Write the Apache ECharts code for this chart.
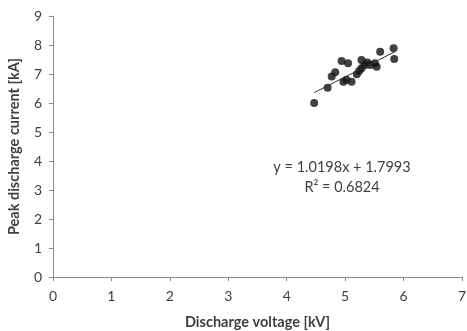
<!DOCTYPE html>
<html>
<head>
<meta charset="utf-8">
<script src="https://cdn.jsdelivr.net/npm/echarts@6/dist/echarts.min.js"></script>
<style>
  html, body { margin: 0; padding: 0; background: #fff; }
  #chart { width: 467px; height: 331px; }
</style>
</head>
<body>
<div id="chart"></div>
<script>
// Measured discharge voltage [kV] vs. peak discharge current [kA]
var voltage = [4.47, 4.70, 4.77, 4.83, 4.94, 5.05, 4.97, 5.11, 5.20, 5.28, 5.28, 5.33, 5.43, 5.51, 5.54, 5.60, 5.83, 5.84, 5.02, 5.24, 5.38];
var current = [6.00, 6.53, 6.91, 7.06, 7.45, 7.37, 6.73, 6.73, 6.99, 7.48, 7.20, 7.30, 7.31, 7.37, 7.25, 7.77, 7.89, 7.52, 6.80, 7.10, 7.40];

// Linear trendline coefficients
var slope = 1.0198;
var intercept = 1.7993;
var rSquared = 0.6824;

var xTicks = [0, 1, 2, 3, 4, 5, 6, 7];
var yTicks = [0, 1, 2, 3, 4, 5, 6, 7, 8, 9];

var points = voltage.map(function (v, i) { return [v, current[i]]; });
var xMin = Math.min.apply(null, voltage);
var xMax = Math.max.apply(null, voltage);
var trend = [[xMin, slope * xMin + intercept], [xMax, slope * xMax + intercept]];

var fontFamily = 'Lato, "Liberation Sans", sans-serif';
var axisGray = '#8a8a8a';
var textGray = '#404040';

var chart = echarts.init(document.getElementById('chart'));
chart.setOption({
  animation: false,
  backgroundColor: '#fff',
  grid: { left: 53, right: 5, top: 16, bottom: 54, containLabel: false, outerBoundsMode: 'none' },
  xAxis: {
    type: 'value',
    min: xTicks[0],
    max: xTicks[xTicks.length - 1],
    interval: 1,
    name: 'Discharge voltage [kV]',
    nameLocation: 'middle',
    nameGap: 38,
    nameTextStyle: { fontFamily: fontFamily, fontWeight: 'bold', fontSize: 14.5, color: textGray },
    axisLine: { show: true, lineStyle: { color: axisGray, width: 1 } },
    axisTick: { show: true, inside: false, length: 4, lineStyle: { color: axisGray } },
    axisLabel: { fontFamily: fontFamily, fontSize: 14, color: textGray, margin: 12 },
    splitLine: { show: false }
  },
  yAxis: {
    type: 'value',
    min: yTicks[0],
    max: yTicks[yTicks.length - 1],
    interval: 1,
    name: 'Peak discharge current [kA]',
    nameLocation: 'middle',
    nameGap: 31,
    nameTextStyle: { fontFamily: fontFamily, fontWeight: 'bold', fontSize: 14.5, color: textGray },
    axisLine: { show: true, lineStyle: { color: axisGray, width: 1 } },
    axisTick: { show: true, inside: false, length: 4, lineStyle: { color: axisGray } },
    axisLabel: { fontFamily: fontFamily, fontSize: 14, color: textGray, margin: 11 },
    splitLine: { show: false }
  },
  series: [
    {
      type: 'scatter',
      data: points,
      symbol: 'circle',
      symbolSize: 8,
      itemStyle: { color: '#111' },
      z: 2
    },
    {
      type: 'line',
      data: trend,
      symbol: 'none',
      lineStyle: { color: '#333', width: 1 },
      z: 3
    }
  ],
  graphic: [
    {
      type: 'text',
      x: 342, y: 167,
      style: {
        text: 'y = ' + slope.toFixed(4) + 'x + ' + intercept.toFixed(4),
        font: '14.5px ' + fontFamily,
        fill: textGray,
        textAlign: 'center',
        textVerticalAlign: 'middle'
      }
    },
    {
      type: 'text',
      x: 342, y: 187,
      style: {
        text: 'R² = ' + rSquared.toFixed(4),
        font: '14.5px ' + fontFamily,
        fill: textGray,
        textAlign: 'center',
        textVerticalAlign: 'middle'
      }
    }
  ]
});
</script>
</body>
</html>
